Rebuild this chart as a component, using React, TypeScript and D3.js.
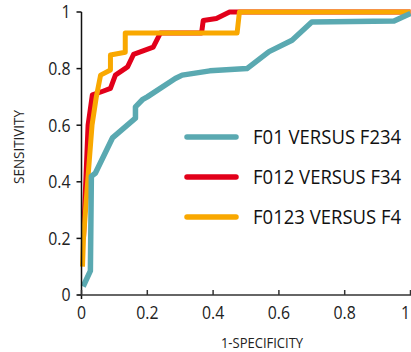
import React from "react";
import * as d3 from "d3";

const xTicks = [0, 0.2, 0.4, 0.6, 0.8, 1];
const yTicks = [0, 0.2, 0.4, 0.6, 0.8, 1];
const tickLabels = ["0", "0.2", "0.4", "0.6", "0.8", "1"];

const seriesNames = ["F01 VERSUS F234", "F012 VERSUS F34", "F0123 VERSUS F4"];
const seriesColors = ["#5aa9b1", "#e2001a", "#f9a800"];

const tealX = [0.005, 0.027, 0.03, 0.042, 0.094, 0.164, 0.164, 0.185, 0.2, 0.285, 0.306, 0.39, 0.503, 0.57, 0.64, 0.7, 0.95, 1.0];
const tealY = [0.03, 0.085, 0.42, 0.43, 0.555, 0.625, 0.665, 0.69, 0.7, 0.765, 0.777, 0.792, 0.8, 0.86, 0.9, 0.965, 0.968, 0.995];

const redX = [0.006, 0.02, 0.033, 0.065, 0.088, 0.103, 0.14, 0.158, 0.218, 0.24, 0.365, 0.37, 0.41, 0.45, 1.0];
const redY = [0.2, 0.6, 0.707, 0.72, 0.73, 0.777, 0.806, 0.85, 0.876, 0.926, 0.926, 0.97, 0.977, 1.0, 1.0];

const yellowX = [0.003, 0.006, 0.02, 0.032, 0.045, 0.058, 0.088, 0.088, 0.133, 0.133, 0.473, 0.48, 1.0];
const yellowY = [0.1, 0.2, 0.42, 0.6, 0.7, 0.777, 0.795, 0.848, 0.858, 0.926, 0.926, 1.0, 1.0];

const FONT = "'Open Sans', sans-serif";

function T(props: { x: number; y: number; sx: number; size: number; anchor?: string; dy?: string; rotate?: number; children: React.ReactNode; fill?: string }) {
  const { x, y, sx, size, anchor = "start", dy, rotate = 0, children, fill = "#222" } = props;
  return (
    <g transform={`translate(${x},${y}) rotate(${rotate}) scale(${sx},1)`}>
      <text textAnchor={anchor as any} dy={dy} fontSize={size} fill={fill}>{children}</text>
    </g>
  );
}

export default function App() {
  const W = 411, H = 352;
  const x = d3.scaleLinear().domain([0, 1]).range([81.5, 410.5]);
  const y = d3.scaleLinear().domain([0, 1]).range([295, 12]);
  const line = d3.line<[number, number]>().x(d => x(d[0])).y(d => y(d[1]));
  const zip = (a: number[], b: number[]) => a.map((v, i) => [v, b[i]] as [number, number]);
  const series = [zip(tealX, tealY), zip(redX, redY), zip(yellowX, yellowY)];
  const drawOrder = [1, 2, 0];
  const widths = [5.5, 5, 5];

  return (
    <svg width={W} height={H} style={{ position: "absolute", left: 0, top: 0 }} fontFamily={FONT}>
      <rect width={W} height={H} fill="#fff" />
      {drawOrder.map(i => (
        <path key={i} d={line(series[i]) || ""} fill="none" stroke={seriesColors[i]} strokeWidth={widths[i]} strokeLinejoin="round" strokeLinecap="butt" />
      ))}
      <line x1={x(0)} x2={x(0)} y1={y(1)} y2={y(0) + 4} stroke="#111" strokeWidth={1.5} />
      {yTicks.map((t, i) => (
        <g key={"y" + i}>
          <line x1={x(0) - 5} x2={x(0)} y1={y(t)} y2={y(t)} stroke="#111" strokeWidth={1.5} />
          <T x={x(0) - 11} y={y(t)} dy="0.36em" anchor="end" size={18} sx={0.88}>{tickLabels[i]}</T>
        </g>
      ))}
      <line x1={x(0) - 4} x2={W} y1={y(0)} y2={y(0)} stroke="#333" strokeWidth={1.5} />
      {xTicks.map((t, i) => (
        <g key={"x" + i}>
          <line x1={x(t)} x2={x(t)} y1={y(0) - 5} y2={y(0)} stroke="#333" strokeWidth={1.5} />
          <T x={i === xTicks.length - 1 ? W - 1 : x(t)} y={y(0) + 24} anchor={i === xTicks.length - 1 ? "end" : "middle"} size={18} sx={0.88}>{tickLabels[i]}</T>
        </g>
      ))}
      <T x={262} y={348} anchor="middle" size={14} sx={0.93}>1-SPECIFICITY</T>
      <T x={24} y={147} anchor="middle" size={14} sx={0.96} rotate={-90}>SENSITIVITY</T>
      {seriesNames.map((n, i) => (
        <g key={"l" + i}>
          <line x1={187} x2={236} y1={137 + i * 40} y2={137 + i * 40} stroke={seriesColors[i]} strokeWidth={5.5} strokeLinecap="round" />
          <T x={253} y={144 + i * 40} size={19.5} sx={0.95} fill="#111">{n}</T>
        </g>
      ))}
    </svg>
  );
}
